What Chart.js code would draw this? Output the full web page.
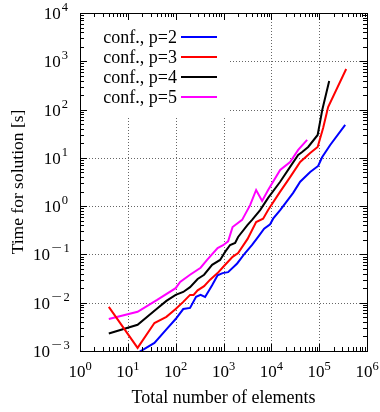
<!DOCTYPE html>
<html>
<head>
<meta charset="utf-8">
<script src="https://cdn.jsdelivr.net/npm/chart.js@4.4.1/dist/chart.umd.min.js"></script>
<style>
  html, body { margin: 0; padding: 0; background: #fff; }
  canvas { display: block; }
</style>
</head>
<body>
<canvas id="timeChart" width="380" height="412"></canvas>
<script>
// solver time vs. mesh size, conforming meshes, p = 2..5
const seriesLabels = ["conf., p=2", "conf., p=3", "conf., p=4", "conf., p=5"];
const seriesColors = ["#0000ff", "#ff0000", "#000000", "#ff00ff"];

const nP2 = [16, 36, 64, 100, 144, 200, 267, 332, 412, 578, 753, 958, 1248, 1930, 2830, 3960, 5300, 7070, 9440, 10900, 15300, 21400, 28600, 40100, 64900, 95300, 116000, 170000, 350000];
const tP2 = [0.00091, 0.00147, 0.0028, 0.0046, 0.0074, 0.0078, 0.0132, 0.0145, 0.0132, 0.023, 0.037, 0.041, 0.043, 0.065, 0.107, 0.157, 0.23, 0.34, 0.42, 0.55, 0.83, 1.28, 1.88, 3.2, 5.1, 6.8, 10.4, 18.5, 48];

const nP3 = [4, 16, 36, 64, 100, 144, 200, 237, 288, 393, 525, 753, 981, 1550, 2020, 3190, 4810, 6730, 8570, 15300, 24700, 40100, 64900, 93000, 121000, 154000, 367000];
const tP3 = [0.0082, 0.00116, 0.0038, 0.0051, 0.0074, 0.0104, 0.0145, 0.0145, 0.018, 0.022, 0.030, 0.041, 0.055, 0.089, 0.107, 0.21, 0.47, 0.55, 0.83, 2.0, 4.0, 8.2, 12.6, 16.8, 41.6, 113, 693];

const nP4 = [4, 16, 36, 64, 100, 144, 200, 288, 393, 578, 849, 1080, 1374, 1750, 2020, 3190, 3960, 5830, 8570, 15300, 24700, 36400, 44100, 58900, 93000, 116000, 162000];
const tP4 = [0.0023, 0.0035, 0.0068, 0.0109, 0.0145, 0.0167, 0.021, 0.031, 0.038, 0.061, 0.077, 0.113, 0.157, 0.173, 0.23, 0.41, 0.52, 0.83, 1.48, 3.2, 6.5, 11.5, 13.2, 16.8, 29.8, 98, 391];

const nP5 = [4, 16, 41, 100, 124, 200, 332, 454, 753, 981, 1248, 1550, 2450, 3600, 4810, 6420, 8570, 15300, 24700, 36400, 56100];
const tP5 = [0.0046, 0.0065, 0.0114, 0.020, 0.027, 0.038, 0.053, 0.077, 0.136, 0.155, 0.186, 0.37, 0.52, 1.05, 2.16, 1.28, 2.16, 5.6, 8.2, 14.6, 23.5];

const nValues = [nP2, nP3, nP4, nP5];
const tValues = [tP2, tP3, tP4, tP5];

// axis decades (tick labels are 10^k)
const xDecades = [0, 1, 2, 3, 4, 5, 6];
const yDecades = [-3, -2, -1, 0, 1, 2, 3, 4];

const xTitle = "Total number of elements";
const yTitle = "Time for solution [s]";

const SERIF = "'Liberation Serif', 'DejaVu Serif', serif";

function crisp(v){ return Math.round(v) + 0.5; }

// gnuplot-like frame: dotted grid, inward ticks, 10^k labels, key box
const framePlugin = {
  id: "frame",
  beforeDatasetsDraw(chart){
    const ctx = chart.ctx;
    const a = chart.chartArea;
    const xs = chart.scales.x, ys = chart.scales.y;
    ctx.save();
    ctx.strokeStyle = "#666";
    ctx.lineWidth = 1;
    ctx.setLineDash([1, 2]);
    xDecades.slice(1, -1).forEach(k => {
      const x = crisp(xs.getPixelForValue(Math.pow(10, k)));
      ctx.beginPath(); ctx.moveTo(x, a.top); ctx.lineTo(x, a.bottom); ctx.stroke();
    });
    yDecades.slice(1, -1).forEach(k => {
      const y = crisp(ys.getPixelForValue(Math.pow(10, k)));
      ctx.beginPath(); ctx.moveTo(a.left, y); ctx.lineTo(a.right, y); ctx.stroke();
    });
    ctx.setLineDash([]);
    // key background hides the grid behind it
    ctx.fillStyle = "#fff";
    ctx.fillRect(a.left, a.top, 148, 104);
    ctx.restore();
  },
  afterDatasetsDraw(chart){
    const ctx = chart.ctx;
    const a = chart.chartArea;
    const xs = chart.scales.x, ys = chart.scales.y;
    ctx.save();

    // border
    ctx.strokeStyle = "#000";
    ctx.lineWidth = 1;
    ctx.strokeRect(crisp(a.left), crisp(a.top), Math.round(a.right - a.left), Math.round(a.bottom - a.top));

    // ticks, inward on all sides
    const major = 7, minor = 4;
    ctx.beginPath();
    xDecades.forEach(k => {
      for (let m = 1; m <= 9; m++) {
        const v = m * Math.pow(10, k);
        if (v > xs.max) break;
        const x = crisp(xs.getPixelForValue(v));
        const len = m === 1 ? major : minor;
        ctx.moveTo(x, a.bottom); ctx.lineTo(x, a.bottom - len);
        ctx.moveTo(x, a.top); ctx.lineTo(x, a.top + len);
      }
    });
    yDecades.forEach(k => {
      for (let m = 1; m <= 9; m++) {
        const v = m * Math.pow(10, k);
        if (v > ys.max * 1.0001) break;
        const y = crisp(ys.getPixelForValue(v));
        const len = m === 1 ? major : minor;
        ctx.moveTo(a.left, y); ctx.lineTo(a.left + len, y);
        ctx.moveTo(a.right, y); ctx.lineTo(a.right - len, y);
      }
    });
    ctx.stroke();

    // tick labels
    ctx.fillStyle = "#000";
    ctx.textBaseline = "alphabetic";
    const baseFont = "17px " + SERIF, supFont = "12.5px " + SERIF;

    xDecades.forEach(k => {
      const x = xs.getPixelForValue(Math.pow(10, k));
      ctx.font = baseFont;
      const wb = ctx.measureText("10").width;
      ctx.font = supFont;
      const sup = String(k);
      const ws = ctx.measureText(sup).width;
      const start = x - (wb + ws) / 2;
      ctx.textAlign = "left";
      ctx.font = baseFont;
      ctx.fillText("10", start, a.bottom + 26);
      ctx.font = supFont;
      ctx.fillText(sup, start + wb, a.bottom + 19);
    });

    yDecades.forEach(k => {
      const y = ys.getPixelForValue(Math.pow(10, k));
      ctx.font = supFont;
      const digit = String(Math.abs(k));
      const wd = ctx.measureText(digit).width;
      const baseRight = k < 0 ? 50 : 67 - wd;
      ctx.font = baseFont;
      ctx.textAlign = "right";
      ctx.fillText("10", baseRight, y + 6);
      ctx.textAlign = "left";
      ctx.font = supFont;
      let sx = baseRight + 1;
      if (k < 0) {
        const wm = ctx.measureText("\u2212").width;
        ctx.save();
        ctx.translate(sx, y - 2);
        ctx.scale(1.5, 1);
        ctx.fillText("\u2212", 0, 0);
        ctx.restore();
        sx += wm * 1.5 + 2;
      }
      ctx.fillText(digit, sx, y - 2);
    });

    // axis titles
    ctx.font = "18px " + SERIF;
    ctx.textAlign = "center";
    ctx.fillText(xTitle, (a.left + a.right) / 2, 403);
    ctx.save();
    ctx.translate(23, (a.top + a.bottom) / 2);
    ctx.rotate(-Math.PI / 2);
    ctx.font = "17.5px " + SERIF;
    ctx.fillText(yTitle, 0, 0);
    ctx.restore();

    // key
    const keyY = [37, 57, 77, 97];
    ctx.font = "18px " + SERIF;
    ctx.textAlign = "right";
    chart.data.datasets.forEach((ds, i) => {
      ctx.fillStyle = "#000";
      ctx.fillText(ds.label, 177, keyY[i] + 6);
      ctx.strokeStyle = ds.borderColor;
      ctx.lineWidth = 2;
      ctx.beginPath();
      ctx.moveTo(181, keyY[i]);
      ctx.lineTo(217, keyY[i]);
      ctx.stroke();
    });

    ctx.restore();
  }
};

const ctx = document.getElementById("timeChart");
new Chart(ctx, {
  type: "line",
  data: {
    datasets: seriesLabels.map((label, i) => ({
      label: label,
      data: nValues[i].map((n, j) => ({ x: n, y: tValues[i][j] })),
      borderColor: seriesColors[i],
      borderWidth: 2,
      pointRadius: 0,
      tension: 0,
      fill: false
    }))
  },
  options: {
    responsive: false,
    animation: false,
    devicePixelRatio: 1,
    layout: { padding: { top: 13, right: 13, left: 0, bottom: 0 } },
    plugins: { legend: { display: false }, tooltip: { enabled: false } },
    scales: {
      x: {
        type: "logarithmic", min: 1, max: 1e6,
        grid: { display: false }, border: { display: false }, ticks: { display: false },
        afterFit(s){ s.height = 61; }
      },
      y: {
        type: "logarithmic", min: 1e-3, max: 1e4,
        grid: { display: false }, border: { display: false }, ticks: { display: false },
        afterFit(s){ s.width = 80; }
      }
    }
  },
  plugins: [framePlugin]
});
</script>
</body>
</html>
